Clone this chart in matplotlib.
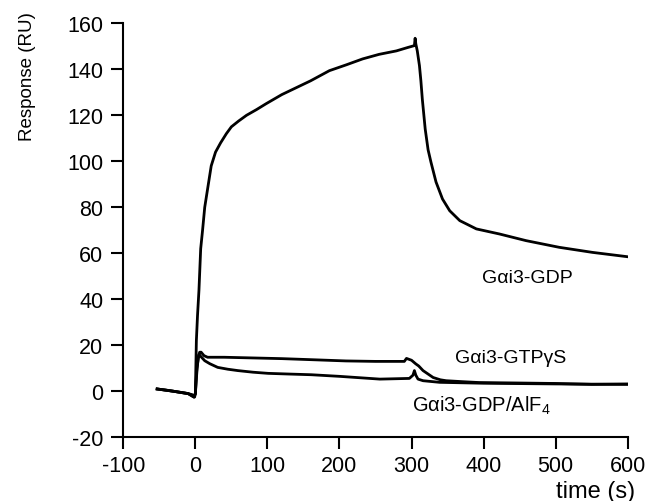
import numpy as np
import matplotlib
matplotlib.use("Agg")
import matplotlib.pyplot as plt

plt.rcParams['font.family'] = ['Liberation Sans', 'DejaVu Sans']
plt.rcParams['mathtext.fontset'] = 'custom'
plt.rcParams['mathtext.rm'] = 'Liberation Sans'
plt.rcParams['mathtext.it'] = 'Liberation Sans'
plt.rcParams['axes.unicode_minus'] = False

# Gai3-GDP sensorgram (big curve)
t_gdp = [-53, -40, -30, -20, -10, -4, -1, 0, 1.4, 3, 5, 7.4, 10, 13, 17, 22, 28, 35, 43, 50,
         60, 71, 85, 98, 120, 140, 160, 186, 210, 232, 255, 279, 295, 304, 305, 306, 308,
         311, 313, 315, 319, 323, 327, 334, 343, 353, 367, 390, 422, 459, 505, 551, 600]
r_gdp = [1, 0.5, 0, -0.5, -1, -1.5, -2.5, -1, 22, 33, 44, 62, 70, 80, 88, 98, 104, 108, 112, 115,
         117.5, 120, 122.5, 125, 129, 132, 135, 139.4, 142, 144.5, 146.5, 148, 149.5, 150.3, 153.5, 151, 148,
         141.6, 135, 127, 114, 105, 99.6, 91, 83.6, 78.5, 74.2, 70.6, 68.4, 65.5, 62.6, 60.4, 58.5]

# Gai3-GTPgS
t_gtp = [-53, -30, -10, -2, 0, 2, 4, 6, 8, 12, 17, 40, 80, 120, 165, 209, 250, 290, 293, 300,
         306, 310, 316, 323, 330, 340, 348, 370, 394, 450, 500, 550, 600]
r_gtp = [1, 0, -1, -2.5, -1, 8, 15, 17, 17, 15.5, 14.8, 14.8, 14.5, 14.2, 13.7, 13.2, 13, 13, 14.3, 13.5,
         11.9, 11, 9, 7.5, 6, 5, 4.6, 4.2, 3.8, 3.6, 3.4, 3.0, 3.2]

# Gai3-GDP/AlF4
t_alf = [-53, -30, -10, -2, 0, 2, 5, 8, 13, 20, 31, 45, 59, 80, 101, 130, 161, 200, 256, 297,
         302, 304, 306, 309, 316, 339, 400, 500, 600]
r_alf = [1, 0, -1, -2.5, -1, 10, 16, 15, 13.3, 12, 10.4, 9.6, 9, 8.3, 7.8, 7.5, 7.2, 6.5, 5.3, 5.6,
         7, 9, 7, 5.3, 4.6, 3.9, 3.5, 3.2, 3.0]

x_ticks = [-100, 0, 100, 200, 300, 400, 500, 600]
y_ticks = [-20, 0, 20, 40, 60, 80, 100, 120, 140, 160]

fig = plt.figure(figsize=(6.64, 5.02), dpi=100)
ax = fig.add_axes([0.1857, 0.1269, 0.9453 - 0.1857, 0.9516 - 0.1269])

for t, r in [(t_gdp, r_gdp), (t_gtp, r_gtp), (t_alf, r_alf)]:
	ax.plot(t, r, color='black', lw=2.0)

ax.set_xlim(-100, 600)
ax.set_ylim(-20, 160)
ax.set_xticks(x_ticks)
ax.set_yticks(y_ticks)
ax.spines['top'].set_visible(False)
ax.spines['right'].set_visible(False)
for s in ['left', 'bottom']:
	ax.spines[s].set_linewidth(1.5)
ax.tick_params(axis='both', direction='out', length=8.5, width=1.5, labelsize=15.5)
ax.tick_params(axis='y', pad=6)
ax.tick_params(axis='x', pad=4)

ax.text(461, 47.5, 'G\u03b1i3-GDP', fontsize=14, ha='center', va='baseline')
ax.text(438, 12.9, 'G\u03b1i3-GTP\u03b3S', fontsize=14, ha='center', va='baseline')
ax.text(300, -8.6, 'G\u03b1i3-GDP/AlF$_4$', fontsize=14.5, ha='left', va='baseline')

fig.text(635 / 664, 1 - 492 / 502, 'time (s)', fontsize=17, ha='right', va='center')
fig.text(27 / 664, 1 - 77 / 502, 'Response (RU)', fontsize=13.5, rotation=90, ha='center', va='center')

fig.savefig('out.png', dpi=100)
